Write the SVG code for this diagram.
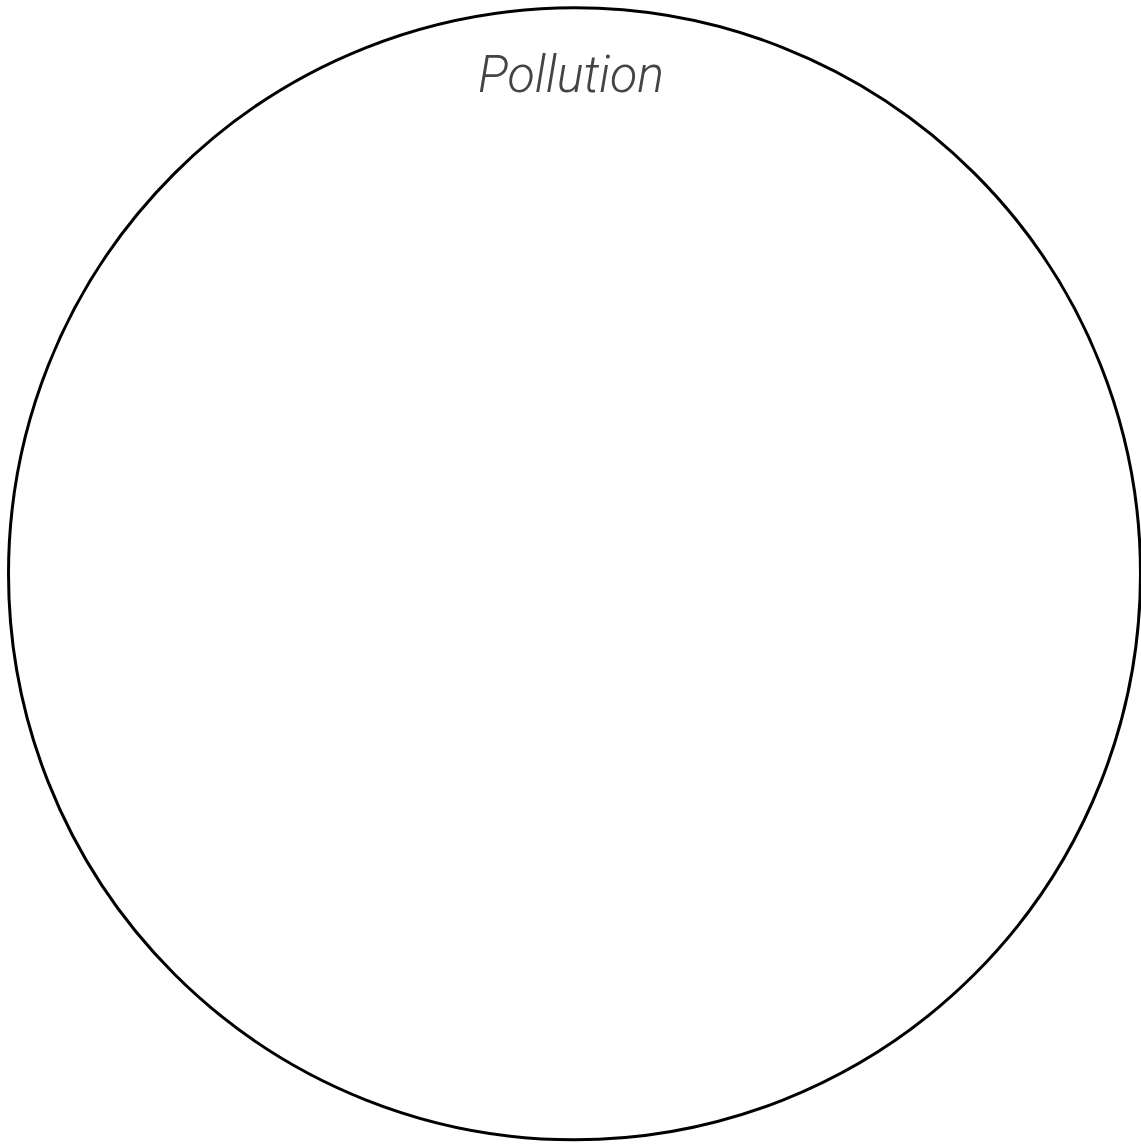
<svg xmlns="http://www.w3.org/2000/svg" width="1141" height="1145" viewBox="0 0 1141 1145">
<style>
.set{fill:none;stroke:#000;stroke-width:3}
.lbl{font-family:Roboto,"Liberation Sans",Arial,sans-serif;font-style:italic;font-weight:300;font-size:51px;fill:#444;text-anchor:middle}
</style>
<rect width="1141" height="1145" fill="#fff"/>
<g id="pollution">
<circle class="set" cx="574.5" cy="573.8" r="566"/>
<text class="lbl" x="571" y="92" textLength="186" lengthAdjust="spacingAndGlyphs">Pollution</text>
</g>
<g id="connectors"></g>
</svg>
